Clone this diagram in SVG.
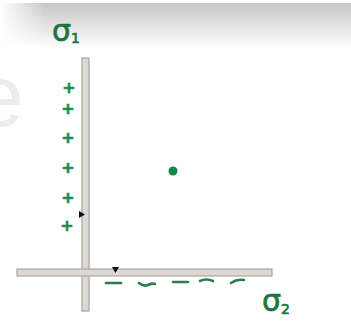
<svg xmlns="http://www.w3.org/2000/svg" width="351" height="323" viewBox="0 0 351 323">
<style>
.bar{fill:#dcd8d4;stroke:#a9a5a1;stroke-width:1.2}
.plus{font-family:"DejaVu Sans",sans-serif;font-size:16px;font-weight:bold;fill:#1f8a4e;stroke:#1f8a4e;stroke-width:0.6;text-anchor:middle}
.sig{font-family:"DejaVu Sans",sans-serif;fill:#1d7442;stroke:#1d7442;stroke-width:0.7}
.neg{fill:none;stroke:#2a7d50;stroke-width:2.6;stroke-linecap:round}
.tick{fill:#111}
</style>
<defs>
<linearGradient id="gv" x1="0" y1="0" x2="0" y2="1">
<stop offset="0" stop-color="#c6c6c6"/>
<stop offset="1" stop-color="#ffffff"/>
</linearGradient>
<linearGradient id="gh" x1="0" y1="0" x2="1" y2="0">
<stop offset="0" stop-color="#ffffff" stop-opacity="1"/>
<stop offset="1" stop-color="#ffffff" stop-opacity="0"/>
</linearGradient>
</defs>
<rect x="0" y="0" width="351" height="323" fill="#ffffff"/>
<g id="band">
<rect x="0" y="3" width="351" height="45" fill="url(#gv)"/>
<rect x="0" y="0" width="45" height="50" fill="url(#gh)"/>
</g>
<text x="-25" y="126" font-family="Liberation Sans, sans-serif" font-size="88" fill="#ececec">e</text>
<g id="sigma1">
<text class="sig" x="52" y="41" font-size="30">σ<tspan font-size="14" dy="2">1</tspan></text>
</g>
<g id="axes">
<rect id="vertical-bar" class="bar" x="82" y="58" width="7" height="253"/>
<rect id="horizontal-bar" class="bar" x="17" y="269" width="255" height="7"/>
<polygon class="tick" points="79,211 85,214.5 79,218"/>
<polygon class="tick" points="112,267 119,267 115.5,273"/>
</g>
<g id="positive-charges">
<text class="plus" x="69" y="93">+</text>
<text class="plus" x="68" y="114">+</text>
<text class="plus" x="68" y="143">+</text>
<text class="plus" x="68" y="173">+</text>
<text class="plus" x="68" y="203">+</text>
<text class="plus" x="67" y="231">+</text>
</g>
<g id="negative-charges">
<path class="neg" d="M106,283 L121,283"/>
<path class="neg" d="M139,283 Q144,287 148,285 Q152,283 155,284"/>
<path class="neg" d="M173,282 L188,282"/>
<path class="neg" d="M200,281 Q206,278 213,281"/>
<path class="neg" d="M231,283 Q237,279 244,280"/>
</g>
<g id="point">
<circle cx="173" cy="171" r="4.5" fill="#0d8a45"/>
</g>
<g id="sigma2">
<text class="sig" x="262" y="311" font-size="30">σ<tspan font-size="14" dy="3">2</tspan></text>
</g>
</svg>
